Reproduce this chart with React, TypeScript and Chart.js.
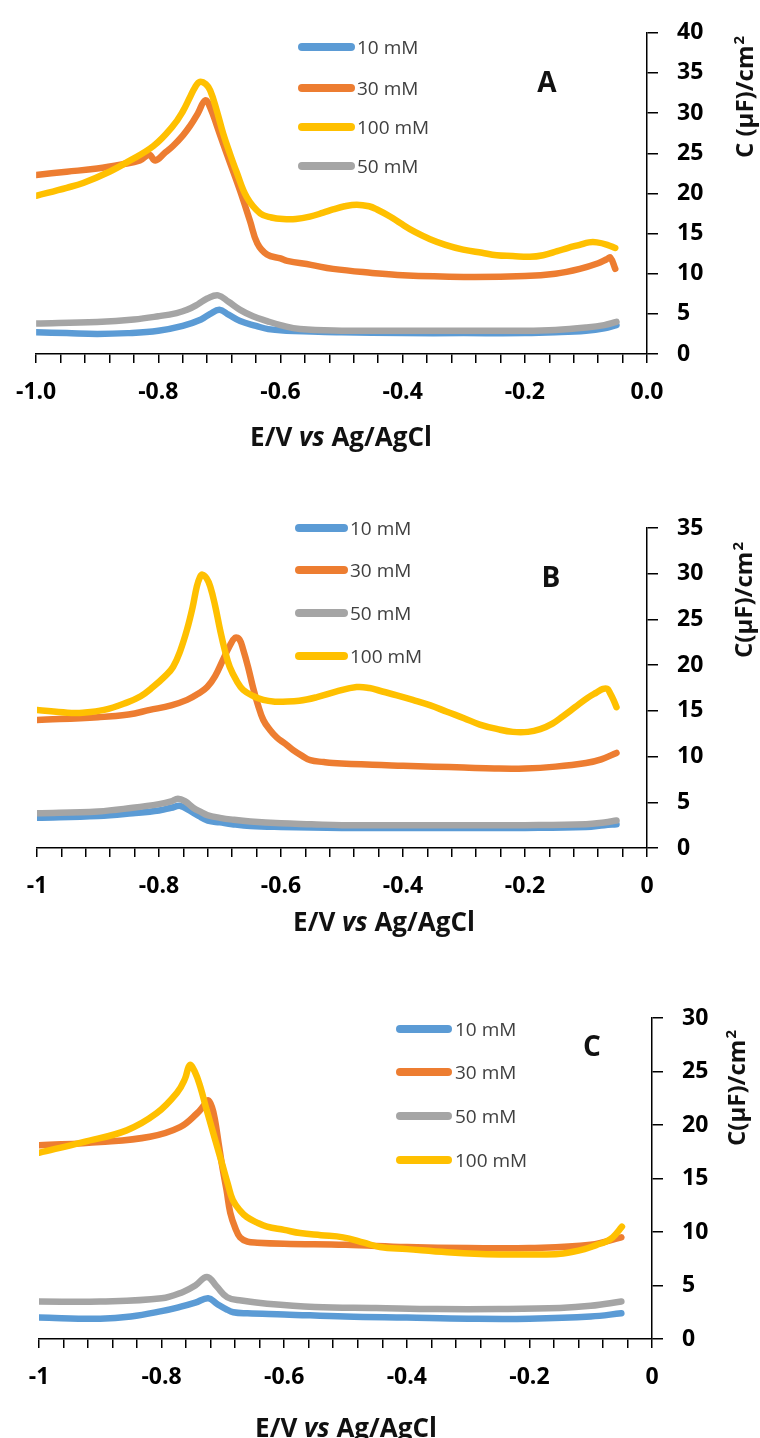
import React, { useEffect, useRef } from "react";
import { Chart, registerables } from "chart.js";

Chart.register(...registerables);

const BLUE = "#5B9BD5";
const ORANGE = "#ED7D31";
const GRAY = "#A5A5A5";
const YELLOW = "#FFC000";

// x-axis tick positions (minor every 0.04, labelled every 0.2)
const X_TICKS = [-1, -0.96, -0.92, -0.88, -0.84, -0.8, -0.76, -0.72, -0.68, -0.64, -0.6, -0.56, -0.52, -0.48, -0.44, -0.4, -0.36, -0.32, -0.28, -0.24, -0.2, -0.16, -0.12, -0.08, -0.04, 0];
const X_MAJOR = [-1, -0.8, -0.6, -0.4, -0.2, 0];
const X_LABELS_A = ["-1.0", "-0.8", "-0.6", "-0.4", "-0.2", "0.0"];
const X_LABELS_BC = ["-1", "-0.8", "-0.6", "-0.4", "-0.2", "0"];

// ---------- Panel A ----------
const A_X_10 = [-1.0, -0.95, -0.9, -0.85, -0.8, -0.76, -0.73, -0.715, -0.70, -0.685, -0.666, -0.64, -0.62, -0.59, -0.55, -0.5, -0.4, -0.3, -0.2, -0.15, -0.1, -0.07, -0.05];
const A_Y_10 = [2.7, 2.6, 2.5, 2.6, 2.9, 3.5, 4.3, 5.0, 5.5, 4.9, 4.1, 3.5, 3.1, 2.9, 2.8, 2.7, 2.6, 2.6, 2.6, 2.7, 2.9, 3.2, 3.6];
const A_X_30 = [-1.0, -0.95, -0.9, -0.86, -0.83, -0.815, -0.805, -0.79, -0.776, -0.76, -0.748, -0.735, -0.723, -0.714, -0.704, -0.693, -0.683, -0.666, -0.65, -0.638, -0.622, -0.60, -0.589, -0.55, -0.514, -0.45, -0.4, -0.3, -0.2, -0.15, -0.11, -0.08, -0.066, -0.06, -0.052];
const A_Y_30 = [22.3, 22.7, 23.1, 23.6, 24.1, 24.8, 24.1, 25.0, 25.9, 27.2, 28.4, 30.0, 31.6, 30.5, 28.4, 26.0, 23.9, 20.3, 16.6, 13.8, 12.4, 11.9, 11.6, 11.1, 10.6, 10.1, 9.8, 9.6, 9.7, 10.0, 10.6, 11.3, 11.8, 12.0, 10.6];
const A_X_100 = [-1.0, -0.95, -0.923, -0.88, -0.851, -0.808, -0.776, -0.76, -0.748, -0.74, -0.732, -0.722, -0.715, -0.705, -0.694, -0.683, -0.672, -0.655, -0.633, -0.615, -0.596, -0.575, -0.552, -0.53, -0.514, -0.495, -0.475, -0.455, -0.442, -0.42, -0.404, -0.38, -0.355, -0.33, -0.301, -0.27, -0.246, -0.22, -0.192, -0.17, -0.147, -0.13, -0.11, -0.095, -0.082, -0.065, -0.052];
const A_Y_100 = [19.7, 20.7, 21.3, 22.7, 23.9, 25.9, 28.4, 30.2, 32.0, 33.2, 33.9, 33.6, 32.8, 30.5, 27.5, 25.0, 22.7, 19.5, 17.5, 17.0, 16.8, 16.8, 17.1, 17.6, 18.0, 18.4, 18.6, 18.4, 18.0, 17.1, 16.3, 15.2, 14.3, 13.6, 13.0, 12.6, 12.3, 12.2, 12.1, 12.3, 12.8, 13.2, 13.6, 13.9, 13.9, 13.6, 13.2];
const A_X_50 = [-1.0, -0.9, -0.84, -0.8, -0.77, -0.753, -0.735, -0.72, -0.702, -0.685, -0.666, -0.645, -0.622, -0.6, -0.568, -0.5, -0.4, -0.3, -0.2, -0.15, -0.1, -0.07, -0.05];
const A_Y_50 = [3.8, 4.0, 4.3, 4.7, 5.1, 5.5, 6.2, 6.9, 7.3, 6.5, 5.5, 4.7, 4.1, 3.6, 3.1, 2.9, 2.9, 2.9, 2.9, 3.0, 3.3, 3.6, 4.0];

// ---------- Panel B ----------
const B_X_10 = [-1.0, -0.9, -0.843, -0.8, -0.78, -0.765, -0.75, -0.735, -0.72, -0.7, -0.68, -0.65, -0.6, -0.5, -0.4, -0.3, -0.2, -0.1, -0.07, -0.05];
const B_Y_10 = [3.3, 3.5, 3.8, 4.1, 4.4, 4.6, 4.1, 3.5, 3.0, 2.8, 2.6, 2.4, 2.3, 2.2, 2.2, 2.2, 2.2, 2.3, 2.5, 2.6];
const B_X_30 = [-1.0, -0.9, -0.85, -0.815, -0.78, -0.754, -0.735, -0.721, -0.708, -0.695, -0.685, -0.675, -0.668, -0.662, -0.654, -0.646, -0.638, -0.629, -0.618, -0.607, -0.593, -0.58, -0.566, -0.552, -0.53, -0.515, -0.45, -0.4, -0.35, -0.3, -0.25, -0.2, -0.15, -0.1, -0.075, -0.05];
const B_Y_30 = [14.0, 14.3, 14.6, 15.1, 15.6, 16.2, 16.9, 17.6, 18.8, 20.6, 22.0, 23.0, 22.8, 21.7, 19.8, 17.6, 15.7, 14.0, 12.9, 12.1, 11.4, 10.7, 10.1, 9.6, 9.4, 9.3, 9.1, 9.0, 8.9, 8.8, 8.7, 8.7, 8.9, 9.3, 9.7, 10.4];
const B_X_50 = [-1.0, -0.9, -0.843, -0.8, -0.78, -0.769, -0.757, -0.744, -0.73, -0.721, -0.7, -0.679, -0.65, -0.6, -0.55, -0.5, -0.4, -0.3, -0.2, -0.1, -0.07, -0.05];
const B_Y_50 = [3.8, 4.0, 4.4, 4.8, 5.1, 5.4, 5.1, 4.4, 3.9, 3.6, 3.3, 3.1, 2.9, 2.7, 2.6, 2.5, 2.5, 2.5, 2.5, 2.6, 2.8, 3.0];
const B_X_100 = [-1.0, -0.95, -0.925, -0.89, -0.853, -0.83, -0.81, -0.79, -0.777, -0.765, -0.754, -0.745, -0.738, -0.733, -0.729, -0.722, -0.716, -0.708, -0.700, -0.692, -0.684, -0.672, -0.662, -0.645, -0.629, -0.61, -0.597, -0.57, -0.541, -0.51, -0.476, -0.455, -0.438, -0.41, -0.384, -0.355, -0.328, -0.3, -0.274, -0.245, -0.22, -0.195, -0.175, -0.155, -0.138, -0.118, -0.098, -0.083, -0.072, -0.065, -0.061, -0.055, -0.05];
const B_Y_100 = [15.1, 14.8, 14.8, 15.1, 15.9, 16.6, 17.6, 18.8, 19.8, 21.6, 23.9, 26.3, 28.6, 29.6, 29.9, 29.5, 28.6, 26.5, 23.9, 21.6, 19.8, 18.2, 17.3, 16.6, 16.2, 16.0, 16.0, 16.1, 16.5, 17.1, 17.6, 17.5, 17.2, 16.7, 16.2, 15.6, 14.9, 14.2, 13.5, 13.0, 12.7, 12.7, 13.0, 13.6, 14.4, 15.4, 16.4, 17.0, 17.4, 17.4, 17.0, 16.2, 15.4];

// ---------- Panel C ----------
const C_X_10 = [-1.0, -0.9, -0.85, -0.8, -0.77, -0.745, -0.724, -0.71, -0.695, -0.683, -0.66, -0.6, -0.5, -0.4, -0.3, -0.2, -0.1, -0.05];
const C_Y_10 = [2.0, 1.9, 2.1, 2.6, 3.0, 3.4, 3.8, 3.3, 2.8, 2.5, 2.4, 2.3, 2.1, 2.0, 1.9, 1.9, 2.1, 2.4];
const C_X_30 = [-1.0, -0.9, -0.819, -0.77, -0.742, -0.73, -0.724, -0.718, -0.713, -0.707, -0.701, -0.694, -0.688, -0.68, -0.672, -0.66, -0.644, -0.6, -0.5, -0.4, -0.3, -0.2, -0.1, -0.05];
const C_Y_30 = [18.1, 18.4, 18.9, 19.8, 21.1, 21.9, 22.3, 21.7, 20.5, 18.3, 16.1, 13.9, 11.8, 10.4, 9.5, 9.1, 9.0, 8.9, 8.8, 8.6, 8.5, 8.5, 8.8, 9.5];
const C_X_50 = [-1.0, -0.9, -0.8, -0.765, -0.745, -0.726, -0.71, -0.693, -0.67, -0.628, -0.55, -0.45, -0.35, -0.25, -0.15, -0.1, -0.05];
const C_Y_50 = [3.5, 3.5, 3.8, 4.4, 5.0, 5.8, 4.9, 3.9, 3.6, 3.3, 3.0, 2.9, 2.8, 2.8, 2.9, 3.1, 3.5];
const C_X_100 = [-1.0, -0.928, -0.857, -0.808, -0.775, -0.762, -0.754, -0.746, -0.737, -0.727, -0.716, -0.708, -0.700, -0.692, -0.684, -0.672, -0.661, -0.645, -0.628, -0.6, -0.574, -0.54, -0.504, -0.47, -0.444, -0.4, -0.334, -0.28, -0.227, -0.18, -0.145, -0.11, -0.09, -0.075, -0.064, -0.049];
const C_Y_100 = [17.4, 18.4, 19.5, 21.1, 23.0, 24.3, 25.6, 25.0, 23.6, 21.5, 19.3, 17.7, 16.1, 14.5, 13.0, 12.0, 11.4, 10.9, 10.5, 10.2, 9.9, 9.7, 9.5, 9.0, 8.6, 8.4, 8.1, 7.95, 7.9, 7.9, 8.0, 8.4, 8.8, 9.1, 9.5, 10.5];

type Series = { label: string; color: string; x: number[]; y: number[] };

type PanelCfg = {
  top: number;
  height: number;
  padL: number;
  padT: number;
  xAxisH: number;
  yAxisW: number;
  yMax: number;
  xLabels: string[];
  series: Series[];
  legX0: number;
  legX1: number;
  legTextX: number;
  legY: number[];
  letter: string;
  letterX: number;
  letterY: number;
  xTitleX: number;
  xTitleY: number;
  yTitle: string;
  yTitleBase: number;
  yTitleY: number;
};

const FONT = '"Open Sans", "Liberation Sans", sans-serif';

const PANELS: PanelCfg[] = [
  {
    top: 0, height: 470, padL: 36, padT: 24, xAxisH: 116, yAxisW: 113, yMax: 40,
    xLabels: X_LABELS_A,
    series: [
      { label: "10 mM", color: BLUE, x: A_X_10, y: A_Y_10 },
      { label: "30 mM", color: ORANGE, x: A_X_30, y: A_Y_30 },
      { label: "100 mM", color: YELLOW, x: A_X_100, y: A_Y_100 },
      { label: "50 mM", color: GRAY, x: A_X_50, y: A_Y_50 },
    ],
    legX0: 302, legX1: 351, legTextX: 357, legY: [47, 88, 127, 166],
    letter: "A", letterX: 547, letterY: 82,
    xTitleX: 341, xTitleY: 437,
    yTitle: "C (µF)/cm", yTitleBase: 753, yTitleY: 97,
  },
  {
    top: 470, height: 480, padL: 37, padT: 58, xAxisH: 102, yAxisW: 113, yMax: 35,
    xLabels: X_LABELS_BC,
    series: [
      { label: "10 mM", color: BLUE, x: B_X_10, y: B_Y_10 },
      { label: "30 mM", color: ORANGE, x: B_X_30, y: B_Y_30 },
      { label: "50 mM", color: GRAY, x: B_X_50, y: B_Y_50 },
      { label: "100 mM", color: YELLOW, x: B_X_100, y: B_Y_100 },
    ],
    legX0: 299, legX1: 344, legTextX: 350, legY: [58, 100, 143, 186],
    letter: "B", letterX: 551, letterY: 107,
    xTitleX: 384, xTitleY: 452,
    yTitle: "C(µF)/cm", yTitleBase: 752, yTitleY: 130,
  },
  {
    top: 950, height: 488, padL: 39, padT: 68, xAxisH: 99, yAxisW: 108, yMax: 30,
    xLabels: X_LABELS_BC,
    series: [
      { label: "10 mM", color: BLUE, x: C_X_10, y: C_Y_10 },
      { label: "30 mM", color: ORANGE, x: C_X_30, y: C_Y_30 },
      { label: "50 mM", color: GRAY, x: C_X_50, y: C_Y_50 },
      { label: "100 mM", color: YELLOW, x: C_X_100, y: C_Y_100 },
    ],
    legX0: 400, legX1: 448, legTextX: 455, legY: [79, 122, 166, 210],
    letter: "C", letterX: 592, letterY: 96,
    xTitleX: 346, xTitleY: 478,
    yTitle: "C(µF)/cm", yTitleBase: 745, yTitleY: 138,
  },
];

function overlayPlugin(cfg: PanelCfg) {
  return {
    id: "overlay",
    afterDraw(chart: any) {
      const ctx: CanvasRenderingContext2D = chart.ctx;
      ctx.save();
      // legend
      cfg.series.forEach((s, i) => {
        const y = cfg.legY[i];
        ctx.strokeStyle = s.color;
        ctx.lineWidth = 8;
        ctx.lineCap = "round";
        ctx.beginPath();
        ctx.moveTo(cfg.legX0, y);
        ctx.lineTo(cfg.legX1, y);
        ctx.stroke();
        ctx.fillStyle = "#404040";
        ctx.font = `19px ${FONT}`;
        ctx.textAlign = "left";
        ctx.textBaseline = "alphabetic";
        ctx.fillText(s.label, cfg.legTextX, y + 7);
      });
      // panel letter
      ctx.fillStyle = "#111";
      ctx.font = `bold 28px ${FONT}`;
      ctx.textAlign = "center";
      ctx.textBaseline = "alphabetic";
      ctx.fillText(cfg.letter, cfg.letterX, cfg.letterY + 10);
      // x title
      const parts = [
        { t: "E/V ", f: `bold 26px ${FONT}` },
        { t: "vs", f: `italic bold 26px ${FONT}` },
        { t: " Ag/AgCl", f: `bold 26px ${FONT}` },
      ];
      let total = 0;
      parts.forEach((p) => {
        ctx.font = p.f;
        total += ctx.measureText(p.t).width;
      });
      let x = cfg.xTitleX - total / 2;
      ctx.textAlign = "left";
      ctx.fillStyle = "#111";
      parts.forEach((p) => {
        ctx.font = p.f;
        ctx.fillText(p.t, x, cfg.xTitleY + 9);
        x += ctx.measureText(p.t).width;
      });
      // y title (rotated, reads bottom to top)
      ctx.font = `bold 24px ${FONT}`;
      const w1 = ctx.measureText(cfg.yTitle).width;
      ctx.font = `bold 15px ${FONT}`;
      const w2 = ctx.measureText("2").width;
      const tw = w1 + w2 + 1;
      ctx.translate(cfg.yTitleBase, cfg.yTitleY);
      ctx.rotate(-Math.PI / 2);
      ctx.textAlign = "left";
      ctx.font = `bold 24px ${FONT}`;
      ctx.fillText(cfg.yTitle, -tw / 2, 0);
      ctx.font = `bold 15px ${FONT}`;
      ctx.fillText("2", -tw / 2 + w1 + 1, -9);
      ctx.restore();
    },
  };
}

function Panel({ cfg }: { cfg: PanelCfg }) {
  const ref = useRef<HTMLCanvasElement | null>(null);
  useEffect(() => {
    if (!ref.current) return;
    const n = cfg.series.length;
    const tickFont = { family: FONT, size: 23, weight: "bold" as const };
    const chart = new Chart(ref.current, {
      type: "line",
      data: {
        datasets: cfg.series.map((s, i) => ({
          label: s.label,
          data: s.x.map((xv, j) => ({ x: xv, y: s.y[j] })),
          borderColor: s.color,
          backgroundColor: s.color,
          borderWidth: 6.5,
          pointRadius: 0,
          pointHoverRadius: 0,
          tension: 0.4,
          borderCapStyle: "round" as const,
          borderJoinStyle: "round" as const,
          fill: false,
          order: n - i,
        })),
      },
      options: {
        responsive: false,
        animation: false,
        devicePixelRatio: 1,
        layout: { padding: { left: cfg.padL, top: cfg.padT, right: 0, bottom: 0 } },
        plugins: { legend: { display: false }, tooltip: { enabled: false } },
        scales: {
          x: {
            type: "linear",
            position: "bottom",
            min: -1,
            max: 0,
            afterBuildTicks: (scale: any) => {
              scale.ticks = X_TICKS.map((v) => ({ value: v }));
            },
            afterFit: (scale: any) => {
              scale.height = cfg.xAxisH;
            },
            ticks: {
              autoSkip: false,
              maxRotation: 0,
              minRotation: 0,
              padding: 16,
              color: "#000",
              font: tickFont,
              callback: (v: any) => {
                const idx = X_MAJOR.findIndex((m) => Math.abs(m - Number(v)) < 1e-6);
                return idx >= 0 ? cfg.xLabels[idx] : "";
              },
            },
            grid: {
              display: true,
              drawOnChartArea: false,
              drawTicks: true,
              tickLength: 9,
              color: "#000",
              tickColor: "#000",
              lineWidth: 1.5,
            },
            border: { display: true, color: "#000", width: 1.5 },
          },
          y: {
            type: "linear",
            position: "right",
            min: 0,
            max: cfg.yMax,
            afterFit: (scale: any) => {
              scale.width = cfg.yAxisW;
            },
            ticks: {
              stepSize: 5,
              padding: 19,
              color: "#000",
              font: tickFont,
            },
            grid: {
              display: true,
              drawOnChartArea: false,
              drawTicks: true,
              tickLength: 11,
              color: "#000",
              tickColor: "#000",
              lineWidth: 1.5,
            },
            border: { display: true, color: "#000", width: 1.5 },
          },
        },
      },
      plugins: [overlayPlugin(cfg)],
    } as any);
    return () => chart.destroy();
  }, [cfg]);
  return (
    <canvas
      ref={ref}
      width={760}
      height={cfg.height}
      style={{ position: "absolute", left: 0, top: cfg.top, width: 760, height: cfg.height }}
    />
  );
}

export default function App() {
  return (
    <div style={{ position: "absolute", left: 0, top: 0, width: 760, height: 1438, background: "#fff", overflow: "hidden" }}>
      {PANELS.map((p, i) => (
        <Panel key={i} cfg={p} />
      ))}
    </div>
  );
}
